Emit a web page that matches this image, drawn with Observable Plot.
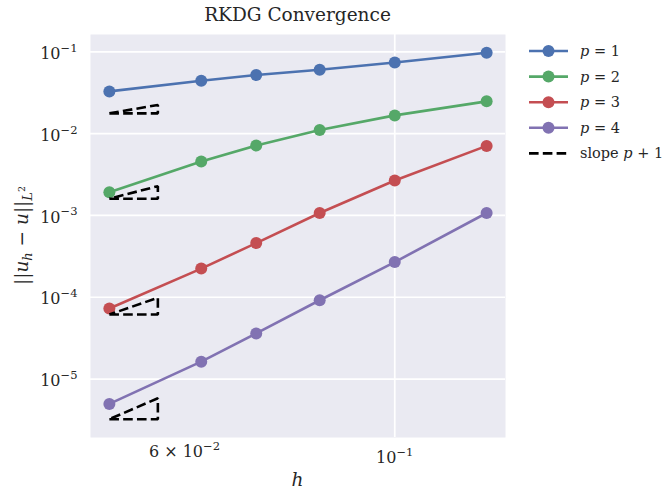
<!DOCTYPE html>
<html><head><meta charset="utf-8">
<script src="https://cdn.jsdelivr.net/npm/d3@7"></script>
<script src="https://cdn.jsdelivr.net/npm/@observablehq/plot@0.6"></script>
<style>
body{margin:0;background:#fff;}
#chart svg{display:block;}
</style>
</head><body><div id="chart"></div>
<script>
// ---- data ----
const h = [1/20, 1/16, 1/14, 1/12, 1/10, 1/8];
const degrees = [1, 2, 3, 4];
const errP1 = [0.0328, 0.0443, 0.0520, 0.0603, 0.0741, 0.0972];
const errP2 = [1.92e-3, 4.56e-3, 7.15e-3, 0.0111, 0.0167, 0.0248];
const errP3 = [7.28e-5, 2.24e-4, 4.59e-4, 1.07e-3, 2.67e-3, 7.08e-3];
const errP4 = [4.96e-6, 1.63e-5, 3.61e-5, 9.18e-5, 2.69e-4, 1.07e-3];
const slopeBase = [0.0177, 1.60e-3, 6.15e-5, 3.23e-6];
const colors = ["#4C72B0", "#55A868", "#C44E52", "#8172B2"];
const yTicks = [1e-5, 1e-4, 1e-3, 1e-2, 1e-1];
const xMinorTicks = [0.06];
const xMajorTicks = [0.1];
const title = "RKDG Convergence";

// ---- derived tables ----
const errs = [errP1, errP2, errP3, errP4];
const series = degrees.flatMap((p, i) => h.map((hv, j) => ({p, h: hv, err: errs[i][j]})));
const xa = h[0], xb = (h[0] + h[1]) / 2;
const triangles = degrees.flatMap((p, i) => {
  const y0 = slopeBase[i], y1 = y0 * Math.pow(xb / xa, p + 1);
  return [[xa, y0], [xb, y0], [xb, y1], [xa, y0]].map(([x, y]) => ({p, x, y}));
});

function logDomain(vals) {
  const lo = Math.log10(d3.min(vals)), hi = Math.log10(d3.max(vals));
  const pad = (hi - lo) * 0.05;
  return [10 ** (lo - pad), 10 ** (hi + pad)];
}
const xDomain = logDomain([...h, ...triangles.map(d => d.x)]);
const yDomain = logDomain([...series.map(d => d.err), ...triangles.map(d => d.y)]);

function sciFmt(v) {
  const e = Math.floor(Math.log10(v) + 1e-9);
  const m = Math.round(v / 10 ** e);
  const ex = String(e).replace("-", "\u2212");
  return (m === 1 ? "" : m + " \u00d7 ") + "10^" + ex;
}

const FONT = "'DejaVu Serif', 'Liberation Serif', serif";
const W = 669, H = 494;
const ML = 90, MR = 164, MT = 34, MB = 57;

const plot = Plot.plot({
  width: W, height: H,
  marginLeft: ML, marginRight: MR, marginTop: MT, marginBottom: MB,
  style: {background: "transparent", fontFamily: FONT, fontSize: "16px", color: "#262626"},
  x: {type: "log", domain: xDomain},
  y: {type: "log", domain: yDomain},
  color: {domain: degrees, range: colors},
  marks: [
    Plot.frame({fill: "#EAEAF2", stroke: "none"}),
    Plot.gridY({ticks: yTicks, stroke: "white", strokeOpacity: 1, strokeWidth: 1.7}),
    Plot.gridX({ticks: xMajorTicks, stroke: "white", strokeOpacity: 1, strokeWidth: 1.7}),
    Plot.axisY({ticks: yTicks, tickSize: 0, tickPadding: 13, dy: 2, tickFormat: sciFmt, label: null}),
    Plot.axisX({ticks: xMinorTicks, tickSize: 0, tickPadding: 8, tickFormat: sciFmt, label: null}),
    Plot.axisX({ticks: xMajorTicks, tickSize: 0, tickPadding: 14, tickFormat: sciFmt, label: null}),
    Plot.line(series, {x: "h", y: "err", z: "p", stroke: "p", strokeWidth: 2.6}),
    Plot.dot(series, {x: "h", y: "err", fill: "p", r: 6, stroke: "none"}),
    Plot.line(triangles, {x: "x", y: "y", z: "p", stroke: "black", strokeWidth: 2.6,
      strokeDasharray: "9.6,4.2", strokeLinecap: "butt", strokeLinejoin: "miter"})
  ]
});

const svg = d3.select(plot);
// superscripts in tick labels
svg.selectAll("text").each(function() {
  const s = this.textContent;
  if (!s.includes("^")) return;
  const [base, ex] = s.split("^");
  const t = d3.select(this);
  t.text(null);
  t.append("tspan").text(base);
  t.append("tspan").attr("dy", "-0.62em").attr("font-size", "72%").text(ex);
});

const cx = ML + (W - ML - MR) / 2;
// title
svg.append("text").attr("x", cx).attr("y", 21).attr("text-anchor", "middle")
  .attr("font-family", FONT).attr("font-size", 18.5).attr("fill", "#262626").text(title);
// x label
svg.append("text").attr("x", cx).attr("y", 486).attr("text-anchor", "middle")
  .attr("font-family", FONT).attr("font-size", 18.5).attr("font-style", "italic")
  .attr("fill", "#262626").text("h");
// y label
const yl = svg.append("text").attr("transform", `translate(28,${MT + (H - MT - MB) / 2}) rotate(-90)`)
  .attr("text-anchor", "middle").attr("font-family", FONT).attr("font-size", 18.5).attr("fill", "#262626");
yl.append("tspan").text("||");
yl.append("tspan").attr("font-style", "italic").text("u");
yl.append("tspan").attr("font-style", "italic").attr("font-size", 13).attr("dy", 4).text("h");
yl.append("tspan").attr("dy", -4).text(" \u2212 ");
yl.append("tspan").attr("font-style", "italic").text("u");
yl.append("tspan").text("||");
yl.append("tspan").attr("font-style", "italic").attr("font-size", 13).attr("dy", 4).text("L");
yl.append("tspan").attr("font-size", 9.5).attr("dy", -7).text("2");

// legend
const lg = svg.append("g").attr("font-family", FONT).attr("font-size", 14.5)
  .attr("fill", "#262626").attr("text-anchor", "start");
const rowY = i => 51 + i * 25.6;
degrees.forEach((p, i) => {
  const y = rowY(i);
  lg.append("line").attr("x1", 529).attr("x2", 568).attr("y1", y).attr("y2", y)
    .attr("stroke", colors[i]).attr("stroke-width", 2.6);
  lg.append("circle").attr("cx", 548.5).attr("cy", y).attr("r", 6).attr("fill", colors[i]);
  const t = lg.append("text").attr("x", 580).attr("y", y).attr("dy", "0.35em").attr("text-anchor", "start");
  t.append("tspan").attr("font-style", "italic").text("p");
  t.append("tspan").text(" = " + p);
});
{
  const y = rowY(4);
  lg.append("line").attr("x1", 529).attr("x2", 568).attr("y1", y).attr("y2", y)
    .attr("stroke", "black").attr("stroke-width", 2.6).attr("stroke-dasharray", "9.6,4.2");
  const t = lg.append("text").attr("x", 580).attr("y", y).attr("dy", "0.35em").attr("text-anchor", "start");
  t.append("tspan").text("slope ");
  t.append("tspan").attr("font-style", "italic").text("p");
  t.append("tspan").text(" + 1");
}

document.getElementById("chart").append(plot);
</script>
</body></html>
